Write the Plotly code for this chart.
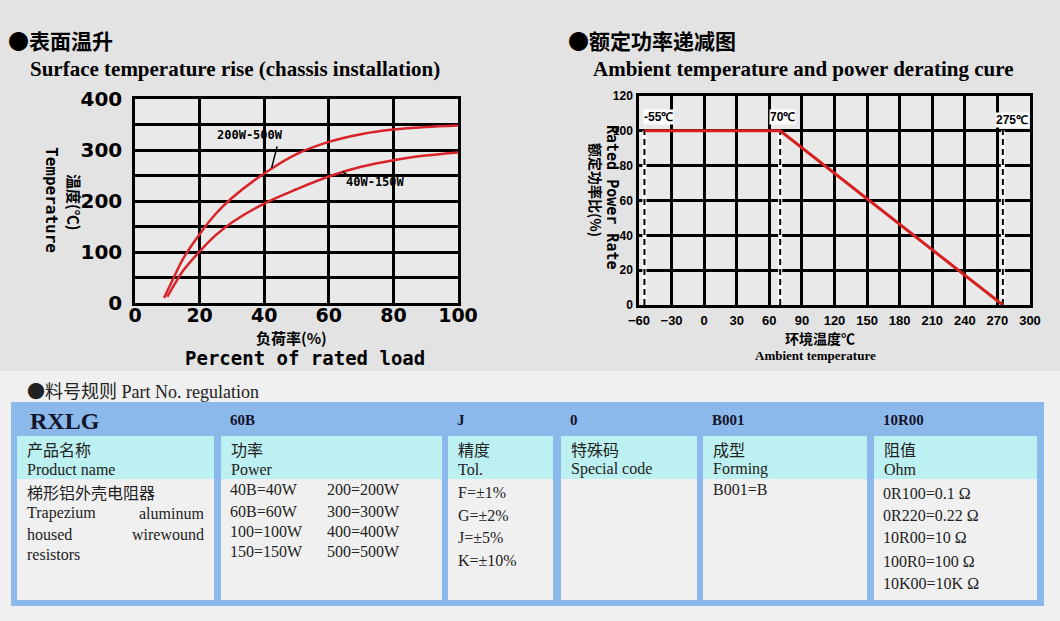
import plotly.graph_objects as go

W, H = 1060, 621

# ---------------- data ----------------
load_hi = [9, 12, 15, 20, 25, 30, 40, 50, 60, 70, 80, 90, 100]
temp_hi = [10, 50, 88, 135, 175, 206, 254, 292, 316, 331, 340, 345, 348]
load_lo = [10, 12, 15, 20, 25, 30, 40, 50, 60, 70, 80, 90, 100]
temp_lo = [12, 34, 64, 101, 133, 158, 195, 223, 248, 267, 280, 289, 295]

amb_temp = [-55, 70, 275]
power_rate = [100, 100, 0]
marker_temps = [-55, 70, 275]
marker_labels = ["-55℃", "70℃", "275℃"]

left_xticks = [0, 20, 40, 60, 80, 100]
left_yticks = [0, 50, 100, 150, 200, 250, 300, 350, 400]
left_yticktext = ["0", "", "100", "", "200", "", "300", "", "400"]
right_xticks = [-60, -30, 0, 30, 60, 90, 120, 150, 180, 210, 240, 270, 300]
right_yticks = [0, 20, 40, 60, 80, 100, 120]

col_codes = ["RXLG", "60B", "J", "0", "B001", "10R00"]
col_cn = ["产品名称", "功率", "精度", "特殊码", "成型", "阻值"]
col_en = ["Product name", "Power", "Tol.", "Special code", "Forming", "Ohm"]
power_left = ["40B=40W", "60B=60W", "100=100W", "150=150W"]
power_right = ["200=200W", "300=300W", "400=400W", "500=500W"]
tol_items = ["F=±1%", "G=±2%", "J=±5%", "K=±10%"]
forming_items = ["B001=B"]
ohm_items = ["0R100=0.1 Ω", "0R220=0.22 Ω", "10R00=10 Ω", "100R0=100 Ω", "10K00=10K Ω"]

# ---------------- helpers ----------------
def px(x):
    return x / W

def py(y):
    return 1 - y / H

RED = "#d9232b"
SERIF = "Liberation Serif, Noto Sans CJK SC"
CJK = "Noto Sans CJK SC"
MONO = "DejaVu Sans Mono"

fig = go.Figure()

# left chart curves
fig.add_trace(go.Scatter(x=load_hi, y=temp_hi, mode="lines", line=dict(color=RED, width=2.5, shape="spline"),
                         xaxis="x", yaxis="y", showlegend=False, hoverinfo="skip"))
fig.add_trace(go.Scatter(x=load_lo, y=temp_lo, mode="lines", line=dict(color=RED, width=2.5, shape="spline"),
                         xaxis="x", yaxis="y", showlegend=False, hoverinfo="skip"))

# right chart dashed markers
for t in marker_temps:
    fig.add_trace(go.Scatter(x=[t, t], y=[0, 100], mode="lines", line=dict(color="white", width=4),
                             xaxis="x2", yaxis="y2", showlegend=False, hoverinfo="skip"))
    fig.add_trace(go.Scatter(x=[t, t], y=[0, 100], mode="lines", line=dict(color="black", width=2, dash="6px,4px"),
                             xaxis="x2", yaxis="y2", showlegend=False, hoverinfo="skip"))
fig.add_trace(go.Scatter(x=amb_temp, y=power_rate, mode="lines", line=dict(color="#d61f1f", width=3),
                         xaxis="x2", yaxis="y2", showlegend=False, hoverinfo="skip"))

axis_common = dict(showgrid=True, gridcolor="black", gridwidth=2.5, showline=True, mirror=True,
                   linecolor="black", linewidth=2.5, zeroline=False, ticks="", fixedrange=True,
                   automargin=False)

fig.update_layout(
    width=W, height=H, margin=dict(l=0, r=0, t=0, b=0, pad=0, autoexpand=False),
    showlegend=False,
    paper_bgcolor="#e3e3e3", plot_bgcolor="#e9e9e9",
    xaxis=dict(domain=[px(135), px(458)], range=[0, 100], tickvals=left_xticks,
               tickfont=dict(family="DejaVu Sans", size=19, color="black", weight="bold"),
               ticklabelstandoff=-7, anchor="y", **axis_common),
    yaxis=dict(domain=[py(303), py(99)], range=[0, 400], tickvals=left_yticks, ticktext=left_yticktext,
               tickfont=dict(family="DejaVu Sans", size=20, color="black", weight="bold"),
               ticklabelstandoff=6, anchor="x", **axis_common),
    xaxis2=dict(domain=[px(639), px(1030)], range=[-60, 300], tickvals=right_xticks,
                tickfont=dict(family="Liberation Sans", size=13, color="black", weight="bold"),
                ticklabelstandoff=2, anchor="y2", **axis_common),
    yaxis2=dict(domain=[py(305), py(96)], range=[0, 120], tickvals=right_yticks,
                tickfont=dict(family="Liberation Sans", size=12, color="black", weight="bold"),
                ticklabelstandoff=1, anchor="x2", **axis_common),
)

shapes = []
ann = []

# bottom background
shapes.append(dict(type="rect", xref="paper", yref="paper", x0=0, x1=1, y0=0, y1=py(371),
                   fillcolor="#f0f0f0", line=dict(width=0), layer="below"))

# leader lines on left chart
shapes.append(dict(type="line", xref="x", yref="y", x0=44, y0=307, x1=42.3, y1=265,
                   line=dict(color="black", width=1.5)))
shapes.append(dict(type="line", xref="x", yref="y", x0=64.3, y0=257, x1=66, y1=250,
                   line=dict(color="black", width=1.5)))

def text(x, y, s, size, family=SERIF, color="black", xanchor="left", bold=False, angle=0, bg=None):
    d = dict(x=px(x), y=py(y), xref="paper", yref="paper", text=s, showarrow=False,
             xanchor=xanchor, yanchor="middle", textangle=angle,
             font=dict(family=family, size=size, color=color, weight="bold" if bold else "normal"))
    if bg:
        d["bgcolor"] = bg
        d["borderpad"] = 0
    ann.append(d)

# titles
text(6, 40, "●表面温升", 21, family=CJK, bold=True)
text(28, 69, "Surface temperature rise (chassis installation)", 21, family="Liberation Serif", bold=True)
text(566, 40, "●额定功率递减图", 21, family=CJK, bold=True)
text(591, 69, "Ambient temperature and power derating cure", 21, family="Liberation Serif", bold=True)

# left chart axis titles
text(52, 200, "Temperature", 16, family=MONO, bold=True, angle=90, xanchor="center")
text(75, 202, "温度(℃)", 15, family=CJK, bold=True, angle=90, xanchor="center")
text(291, 337, "负荷率(%)", 15, family=CJK, bold=True, xanchor="center")
text(305, 358, "Percent of rated load", 19, family=MONO, bold=True, xanchor="center")

# left chart series labels
ann.append(dict(x=35.5, y=329, xref="x", yref="y", text="200W-500W", showarrow=False,
                font=dict(family=MONO, size=12, color="black", weight="bold")))
ann.append(dict(x=74.5, y=237, xref="x", yref="y", text="40W-150W", showarrow=False,
                font=dict(family=MONO, size=12, color="black", weight="bold")))

# right chart axis titles
text(612, 197, "Rated Power Rate", 15, family=MONO, bold=True, angle=90, xanchor="center")
text(596, 190, "额定功率比(%)", 14, family=CJK, bold=True, angle=90, xanchor="center")
text(820, 338, "环境温度℃", 14, family=CJK, bold=True, xanchor="center")
text(815, 355, "Ambient temperature", 13, family="Liberation Serif", bold=True, xanchor="center")

# temperature marker labels
label_pos = [(-42.5, 108), (71.7, 108), (283.5, 106)]
for (lx, ly), lab in zip(label_pos, marker_labels):
    ann.append(dict(x=lx, y=ly, xref="x2", yref="y2", text=lab, showarrow=False, bgcolor="white",
                    borderpad=0, font=dict(family="Liberation Sans", size=12, color="black", weight="bold")))

# ---------------- part number table ----------------
text(25, 390, "<span style='font-family:Noto Sans CJK SC'>●</span>料号规则 Part No. regulation", 18,
     color="#222222")

BLUE = "#8cb9ec"
CYAN = "#bdf0f0"
CELL = "#f0f0f0"
shapes.append(dict(type="rect", xref="paper", yref="paper", x0=px(11), x1=px(1044), y0=py(606), y1=py(402),
                   fillcolor=BLUE, line=dict(width=0), layer="below"))
col_x = [(17, 214), (221, 442), (448, 553), (561, 697), (703, 867), (874, 1037)]
for (x0, x1) in col_x:
    shapes.append(dict(type="rect", xref="paper", yref="paper", x0=px(x0), x1=px(x1), y0=py(479), y1=py(436),
                       fillcolor=CYAN, line=dict(width=0), layer="below"))
    shapes.append(dict(type="rect", xref="paper", yref="paper", x0=px(x0), x1=px(x1), y0=py(600), y1=py(479),
                       fillcolor=CELL, line=dict(width=0), layer="below"))

for i, ((x0, x1), code, cn, en) in enumerate(zip(col_x, col_codes, col_cn, col_en)):
    if i == 0:
        text(28, 421, code, 24, family="Liberation Serif", bold=True, color="#14142a")
    else:
        text(x0 + 7, 420, code, 15, family="Liberation Serif", bold=True, color="#14142a")
    text(x0 + 8, 449, cn, 16, family=CJK, color="#222222")
    text(x0 + 8, 469, en, 16, family="Liberation Serif", color="#222222")

TXT = "#222222"
# product name column
text(25, 492, "梯形铝外壳电阻器", 16, family=CJK, color=TXT)
text(25, 513, "Trapezium", 16, family="Liberation Serif", color=TXT)
text(206, 513, "aluminum", 16, family="Liberation Serif", color=TXT, xanchor="right")
text(25, 534, "housed", 16, family="Liberation Serif", color=TXT)
text(206, 534, "wirewound", 16, family="Liberation Serif", color=TXT, xanchor="right")
text(25, 554, "resistors", 16, family="Liberation Serif", color=TXT)

# power column
power_y = [490, 511, 531, 551]
for yy, a, b in zip(power_y, power_left, power_right):
    text(228, yy, a, 16, family="Liberation Serif", color=TXT)
    text(325, yy, b, 16, family="Liberation Serif", color=TXT)

# tolerance
for yy, s in zip([492, 515, 537, 560], tol_items):
    text(456, yy, s, 16, family="Liberation Serif", color=TXT)

# forming
for yy, s in zip([490], forming_items):
    text(711, yy, s, 16, family="Liberation Serif", color=TXT)

# ohm
for yy, s in zip([493, 515, 537, 561, 583], ohm_items):
    text(881, yy, s, 16, family="Liberation Serif", color=TXT)

fig.update_layout(shapes=shapes, annotations=ann)
fig.write_html("out.html",
               post_script="document.body.style.margin='0';document.body.style.padding='0';"
                           "document.documentElement.style.background='#e3e3e3';")
